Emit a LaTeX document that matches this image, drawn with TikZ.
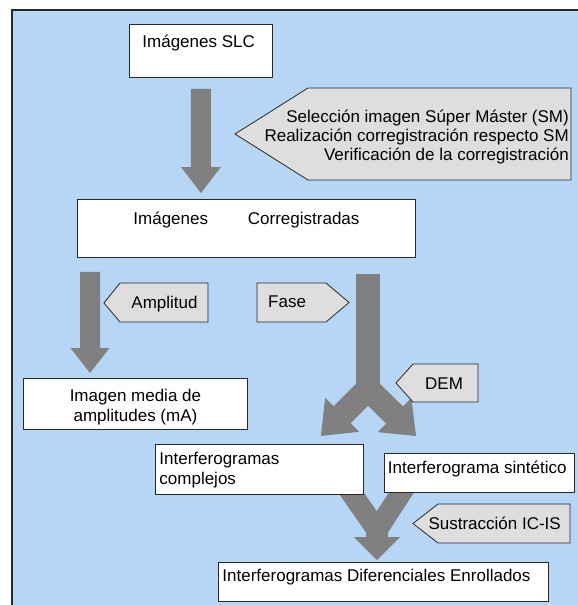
\documentclass[tikz,border=0pt]{standalone}
\usepackage{fontspec}
\setmainfont{Liberation Sans}
\usetikzlibrary{calc}

\definecolor{panel}{RGB}{183,213,245}
\definecolor{arrowfill}{RGB}{128,128,128}
\definecolor{notefill}{RGB}{222,222,222}
\definecolor{edge}{RGB}{40,40,40}

\pgfdeclarelayer{bg}
\pgfsetlayers{bg,main}

% Filled block arrow: #1 start, #2 tip, #3 shaft half-width, #4 head half-width, #5 head length
\newcommand{\fatarrow}[5]{%
  \coordinate (fa-base) at ($(#2)!#5!(#1)$);
  \fill[arrowfill] ($(#1)!#3!90:(#2)$) -- ($(fa-base)!#3!-90:(#1)$)
    -- ($(fa-base)!#4!-90:(#1)$) -- (#2) -- ($(fa-base)!#4!90:(#1)$)
    -- ($(fa-base)!#3!90:(#1)$) -- ($(#1)!#3!-90:(#2)$) -- cycle;}

\begin{document}
\begin{tikzpicture}[x=1pt,y=-1pt,
  font=\fontsize{17}{20}\selectfont,
  box/.style={draw=edge, line width=0.9pt, fill=white, anchor=north west, inner ysep=0pt},
  note/.style={draw=edge, line width=0.8pt, fill=notefill, line join=miter},
  notetext/.style={inner sep=0pt},
]
\useasboundingbox (0,0) rectangle (578,605);

% process boxes
\node[box, inner xsep=13pt, text height=23pt, text depth=30pt] (slc) at (129,24)
  {\parbox[t]{117pt}{Imágenes SLC}};
\node[box, inner xsep=56pt, text height=25pt, text depth=33pt] (corr) at (77,199)
  {\parbox[t]{226pt}{Imágenes\hfill Corregistradas}};
\node[box, inner xsep=4pt, text height=23.5pt, text depth=27.5pt] (mean) at (23,378)
  {\parbox[t]{216pt}{\centering\baselineskip=20pt Imagen media de\\amplitudes (mA)}};
\node[box, inner xsep=4pt, text height=20.5pt, text depth=29.5pt] (cplx) at (155,444)
  {\parbox[t]{200pt}{\raggedright\baselineskip=20pt Interferogramas\\complejos}};
\node[box, inner xsep=3.5pt, text height=20pt, text depth=19pt] (synt) at (384,453)
  {\parbox[t]{183pt}{\raggedright Interferograma sintético}};
\node[box, inner xsep=4pt, text height=19pt, text depth=20pt] (diff) at (218,562)
  {\parbox[t]{322pt}{\raggedright Interferogramas Diferenciales Enrollados}};

% side notes
\draw[note] (571,88) -- (308,88) -- (235,134) -- (308,180) -- (571,180) -- cycle;
\node[notetext, anchor=base east] (sm) at (569,122)
  {\parbox[t]{330pt}{\raggedleft\baselineskip=19pt Selección imagen Súper Máster (SM)\\Realización corregistración respecto SM\\Verificación de la corregistración}};

\draw[note] (208,283) -- (120,283) -- (104,303) -- (120,322) -- (208,322) -- cycle;
\node[notetext, anchor=base] (amp) at (164.5,308) {Amplitud};

\draw[note] (257,283) -- (326,283) -- (349,302.5) -- (326,322) -- (257,322) -- cycle;
\node[notetext, anchor=base west] (fase) at (268,307) {Fase};

\draw[note] (478,364) -- (413,364) -- (396,383) -- (413,402) -- (478,402) -- cycle;
\node[notetext, anchor=base west] (dem) at (425,389) {DEM};

\draw[note] (570,504) -- (438,504) -- (413,523.5) -- (438,543) -- (570,543) -- cycle;
\node[notetext, anchor=base east] (sub) at (561,529) {Sustracción IC-IS};

% arrow end points
\coordinate (a1s) at ($(slc.south)+(0,11)$);
\coordinate (a1e) at ($(corr.north -| slc.south)+(0,-6)$);
\coordinate (a2s) at ($(corr.south west)+(13,14)$);
\coordinate (a2e) at ($(a2s |- mean.north)+(0,-5)$);
\coordinate (a3s) at ($(corr.south west)+(291,16)$);
\coordinate (a3j) at ($(a3s)+(0,115)$);
\coordinate (a3l) at ($(cplx.north east)+(-43,-8)$);
\coordinate (a3r) at ($(synt.north west)+(32,-17)$);
\coordinate (a4l) at ($(cplx.south east)+(-21,-14)$);
\coordinate (a4r) at ($(synt.south west)+(25,-12)$);
\coordinate (a4e) at ($(diff.north west)+(159,-2)$);
\coordinate (a4j) at ($(a4e)+(0,-30)$);
\coordinate (a4m) at ($(a4e)+(0,-48)$);

\begin{pgfonlayer}{bg}
  % panel
  \fill[panel] (12,10) rectangle (600,620);
  \draw[edge, line width=1.4pt] (12,620) -- (12,10) -- (600,10);
  % flow arrows
  \fatarrow{a1s}{a1e}{10pt}{20pt}{26pt}
  \fatarrow{a2s}{a2e}{10pt}{19.5pt}{25pt}
  \fill[arrowfill] ($(a3s)+(-12,0)$) rectangle ($(a3j)+(12,0)$);
  \fatarrow{a3j}{a3l}{12pt}{24pt}{30pt}
  \fatarrow{a3j}{a3r}{12pt}{24pt}{30pt}
  \draw[arrowfill, line width=21pt] (a4l) -- (a4j);
  \draw[arrowfill, line width=21pt] (a4r) -- (a4j);
  \fatarrow{a4m}{a4e}{11pt}{23pt}{23pt}
\end{pgfonlayer}
\end{tikzpicture}
\end{document}
